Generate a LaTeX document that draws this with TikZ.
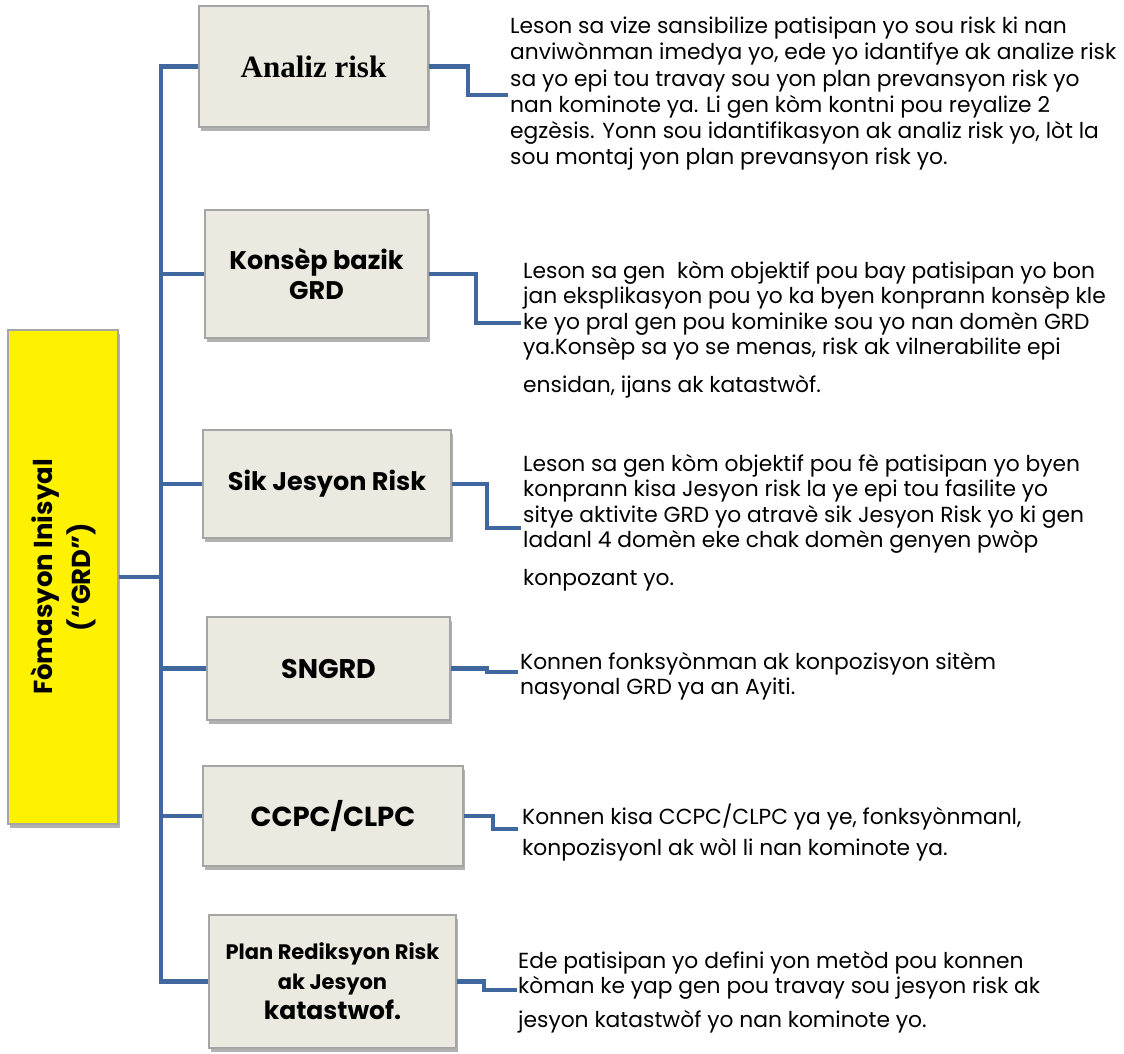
\documentclass[tikz,border=0pt]{standalone}
\usepackage{fontspec}
\setmainfont{Poppins}
\newfontfamily\timesfont{Liberation Serif}
\usetikzlibrary{shadows}
\definecolor{linkblue}{RGB}{64,104,158}
\definecolor{boxfill}{RGB}{236,234,224}
\definecolor{boxline}{RGB}{165,165,165}
\begin{document}
\begin{tikzpicture}[x=1pt,y=-1pt,
  topic/.style={draw=boxline, line width=1.2pt, fill=boxfill, inner sep=0pt, align=center,
    font=\bfseries\fontsize{25.5}{30}\selectfont,
    drop shadow={shadow xshift=2pt, shadow yshift=-3.5pt, opacity=0.5, fill=black!60}},
  desc/.style={anchor=north west, inner sep=0pt, align=left, font=\fontsize{21.8}{25.5}\selectfont},
  link/.style={draw=linkblue, line width=4.8pt, line join=miter}
]
\useasboundingbox (0,0) rectangle (1124,1053);
% root
\node[topic, fill=yellow, rotate=90, minimum width=494pt, minimum height=110pt,
      font=\bfseries\fontsize{26}{38}\selectfont] (root) at (63,577) {Fòmasyon Inisyal\\(“GRD”)};
% topics
\node[topic, minimum width=229pt, minimum height=121pt, font=\timesfont\bfseries\fontsize{31}{36}\selectfont] (b1) at (313.5,66.5) {Analiz risk};
\node[topic, minimum width=223pt, minimum height=128pt] (b2) at (316.5,274) {Konsèp bazik\\GRD};
\node[topic, minimum width=248pt, minimum height=108pt] (b3) at (327,484) {Sik Jesyon Risk};
\node[topic, minimum width=243pt, minimum height=103pt, font=\bfseries\fontsize{27}{32}\selectfont] (b4) at (328.5,668.5) {SNGRD};
\node[topic, minimum width=260pt, minimum height=100pt, font=\bfseries\fontsize{27.5}{32}\selectfont] (b5) at (333,816) {CCPC/CLPC};
\node[topic, minimum width=247pt, minimum height=133pt, font=\bfseries\fontsize{21}{30}\selectfont] (b6) at (332.5,981.5)
  {Plan Rediksyon Risk\\ak Jesyon\\{\fontsize{25}{30}\selectfont katastwof.}};
% trunk
\coordinate (tj) at (161,577);
\draw[link] (root.south) -- (tj);
\foreach \b in {b1,b2,b3,b4,b5,b6} { \draw[link] (tj) |- (\b.west); }
% descriptions
\node[desc, font=\fontsize{21.8}{26.2}\selectfont] (t1) at (510,17) {Leson sa vize sansibilize patisipan yo sou risk ki nan\\
anviwònman imedya yo, ede yo idantifye ak analize risk\\
sa yo epi tou travay sou yon plan prevansyon risk yo\\
nan kominote ya. Li gen kòm kontni pou reyalize 2\\
egzèsis. Yonn sou idantifikasyon ak analiz risk yo, lòt la\\
sou montaj yon plan prevansyon risk yo.};
\node[desc] (t2) at (523,261) {Leson sa gen\ \ kòm objektif pou bay patisipan yo bon\\
jan eksplikasyon pou yo ka byen konprann konsèp kle\\
ke yo pral gen pou kominike sou yo nan domèn GRD\\
ya.Konsèp sa yo se menas, risk ak vilnerabilite epi\\[12pt]
ensidan, ijans ak katastwòf.};
\node[desc] (t3) at (523,454) {Leson sa gen kòm objektif pou fè patisipan yo byen\\
konprann kisa Jesyon risk la ye epi tou fasilite yo\\
sitye aktivite GRD yo atravè sik Jesyon Risk yo ki gen\\
ladanl 4 domèn eke chak domèn genyen pwòp\\[12pt]
konpozant yo.};
\node[desc] (t4) at (520,652) {Konnen fonksyònman ak konpozisyon sitèm\\
nasyonal GRD ya an Ayiti.};
\node[desc] (t5) at (522,804) {Konnen kisa CCPC/CLPC ya ye, fonksyònmanl,\\[5pt]
konpozisyonl ak wòl li nan kominote ya.};
\node[desc] (t6) at (518,951) {Ede patisipan yo defini yon metòd pou konnen\\
kòman ke yap gen pou travay sou jesyon risk ak\\[8pt]
jesyon katastwòf yo nan kominote yo.};
% right connectors
\coordinate (e1) at (508,95);
\coordinate (e2) at (521,323);
\coordinate (e3) at (521,528);
\coordinate (e4) at (518,672);
\coordinate (e5) at (518,829);
\coordinate (e6) at (517,990);
\draw[link] (b1.east) -| (468,95) -- (e1);
\draw[link] (b2.east) -| (476,323) -- (e2);
\draw[link] (b3.east) -| (487,528) -- (e3);
\draw[link] (b4.east) -| (487,672) -- (e4);
\draw[link] (b5.east) -| (493,829) -- (e5);
\draw[link] (b6.east) -| (484,990) -- (e6);
\end{tikzpicture}
\end{document}
